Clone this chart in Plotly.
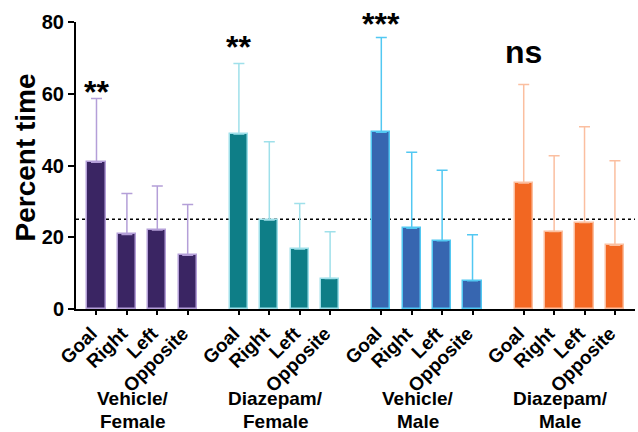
import plotly.graph_objects as go

zones = ["Goal", "Right", "Left", "Opposite"]
group_line1 = ["Vehicle/", "Diazepam/", "Vehicle/", "Diazepam/"]
group_line2 = ["Female", "Female", "Male", "Male"]
y_title = "Percent time"

vf_mean = [40.9, 20.8, 22.0, 15.0]
vf_err = [17.8, 11.4, 12.3, 14.1]
df_mean = [48.8, 24.8, 16.7, 8.5]
df_err = [19.6, 21.8, 12.7, 13.0]
vm_mean = [49.3, 22.5, 19.0, 7.9]
vm_err = [26.4, 21.2, 19.7, 12.8]
dm_mean = [35.1, 21.6, 24.1, 17.8]
dm_err = [27.5, 21.1, 26.7, 23.5]

significance = ["**", "**", "***", "ns"]
sig_y = [60.5, 73.1, 79.5, 71.6]
chance_level = 25

means = [vf_mean, df_mean, vm_mean, dm_mean]
errs = [vf_err, df_err, vm_err, dm_err]
fills = ["#3a2563", "#0e7e87", "#3766b0", "#f26722"]
edges = ["#b49fd8", "#9fe0ea", "#52c8f2", "#fbbfa0"]

group_step = 4.684
FONT = "Liberation Sans, Arial, sans-serif"

fig = go.Figure()
tickvals, ticktext = [], []
for g in range(4):
    xs = [g * group_step + k for k in range(len(zones))]
    tickvals += xs
    ticktext += zones
    fig.add_trace(go.Bar(
        x=xs, y=means[g], width=0.6,
        marker=dict(color=fills[g], line=dict(color=edges[g], width=1.5)),
        error_y=dict(type="data", array=errs[g], arrayminus=[0] * 4,
                     symmetric=False, color=edges[g], thickness=1.5, width=5.5),
        showlegend=False, hoverinfo="skip",
    ))
    fig.add_annotation(x=xs[0], y=sig_y[g], text=significance[g], showarrow=False,
                       yanchor="middle", font=dict(family=FONT, size=32, color="black", weight="bold"))
    cx = (xs[0] + xs[-1]) / 2 - 0.3
    fig.add_annotation(x=cx, xref="x", y=0, yref="paper", text=group_line1[g], showarrow=False,
                       yanchor="middle", yshift=-89,
                       font=dict(family=FONT, size=19, color="black", weight="bold"))
    fig.add_annotation(x=cx, xref="x", y=0, yref="paper", text=group_line2[g], showarrow=False,
                       yanchor="middle", yshift=-112,
                       font=dict(family=FONT, size=19, color="black", weight="bold"))

fig.add_annotation(x=0, xref="paper", y=0.5, yref="paper", text=y_title, showarrow=False,
                   textangle=-90, xanchor="center", yanchor="middle", xshift=-51, yshift=8,
                   font=dict(family=FONT, size=28, color="black", weight="bold"))

fig.add_shape(type="line", xref="paper", x0=0, x1=1, yref="y", y0=chance_level, y1=chance_level,
              line=dict(color="black", width=1.5, dash="dot"), layer="below")

fig.update_layout(
    width=638, height=432,
    margin=dict(l=76, r=3, t=22, b=123, autoexpand=False),
    plot_bgcolor="white", paper_bgcolor="white",
    bargap=0,
    xaxis=dict(range=[-0.674, 3 * group_step + 3.66], tickvals=tickvals, ticktext=ticktext,
               tickangle=-45, showline=True, linecolor="black", linewidth=2,
               ticks="outside", ticklen=4, tickwidth=1.5, tickcolor="black",
               showgrid=False, zeroline=False, automargin=False, ticklabelshift=-5,
               tickfont=dict(family=FONT, size=19, color="black", weight="bold")),
    yaxis=dict(range=[0, 80], tickvals=[0, 20, 40, 60, 80], showline=True, linecolor="black",
               linewidth=2, ticks="outside", ticklen=6, tickwidth=2, tickcolor="black",
               showgrid=False, zeroline=False, automargin=False,
               tickfont=dict(family=FONT, size=20, color="black", weight="bold")),
)

fig.write_html("out.html", config={"displayModeBar": False},
               post_script="document.body.style.margin='0';")
